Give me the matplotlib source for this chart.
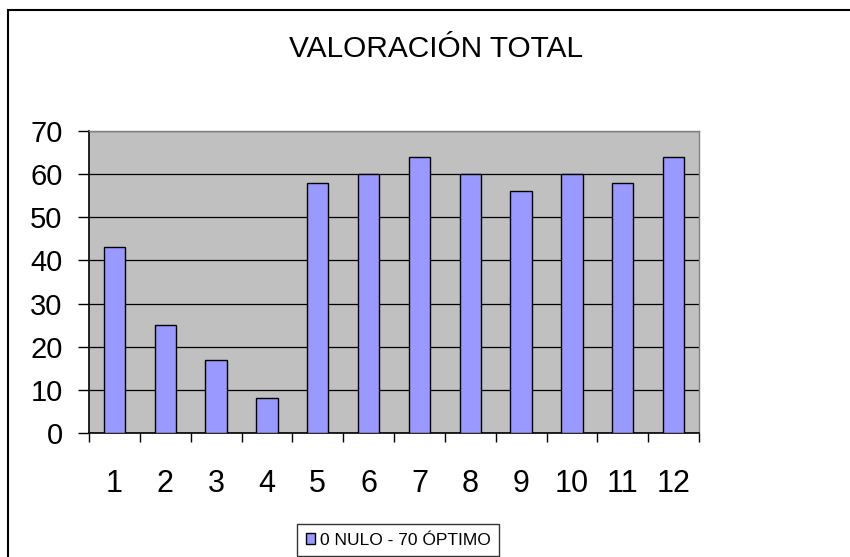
import matplotlib.pyplot as plt
from matplotlib.patches import Rectangle

plt.rcParams['font.family'] = ['Liberation Sans', 'DejaVu Sans']

categories = [1, 2, 3, 4, 5, 6, 7, 8, 9, 10, 11, 12]
valores = [43, 25, 17, 8, 58, 60, 64, 60, 56, 60, 58, 64]
tick_labels = [str(c) for c in categories]
serie = '0 NULO - 70 ÓPTIMO'

fig = plt.figure(figsize=(8.5, 5.57), dpi=100)
ax = fig.add_axes([89 / 850, 1 - 433 / 557, 610 / 850, 302 / 557])
ax.set_facecolor('#C0C0C0')

ax.bar(categories, valores, width=0.42, color='#9999FF', edgecolor='black',
       linewidth=1.0, label=serie, zorder=3)

ax.set_xlim(0.5, 12.5)
ax.set_ylim(0, 70)
ax.set_yticks(range(0, 71, 10))
ax.yaxis.grid(True, color='black', linewidth=0.9, zorder=1)
ax.set_axisbelow(True)

# ticks on category boundaries, labels in the middle
ax.set_xticks([c - 0.5 for c in categories] + [categories[-1] + 0.5])
ax.set_xticklabels([])
ax.set_xticks(categories, minor=True)
ax.set_xticklabels(tick_labels, minor=True, fontsize=22)
ax.tick_params(axis='x', which='major', direction='out', length=6.5, width=1, color='black')
ax.tick_params(axis='x', which='minor', length=0, pad=26)
ax.tick_params(axis='y', direction='out', length=8, width=1, pad=11, labelsize=21)

for side in ['left', 'bottom']:
    ax.spines[side].set_color('black')
    ax.spines[side].set_linewidth(1.2)
for side in ['top', 'right']:
    ax.spines[side].set_color('#808080')
    ax.spines[side].set_linewidth(1.0)

fig.text(436 / 850, 1 - 57 / 557, 'VALORACIÓN TOTAL', ha='center', va='baseline', fontsize=21.5)

leg = fig.legend(loc='upper left', bbox_to_anchor=(297 / 850, 1 - 524 / 557),
                 fontsize=12.5, frameon=True, fancybox=False, handlelength=0.55,
                 handleheight=0.55, handletextpad=0.25, borderpad=0.5, borderaxespad=0)
leg.get_frame().set_edgecolor('black')
leg.get_frame().set_linewidth(1.0)

# outer chart border (runs off the right and bottom edges)
fig.patches.append(Rectangle((8 / 850, -0.2), 1.2, 1.2 - 10 / 557, transform=fig.transFigure,
                             fill=False, edgecolor='black', linewidth=1.5))

fig.savefig('out.png', dpi=100)
